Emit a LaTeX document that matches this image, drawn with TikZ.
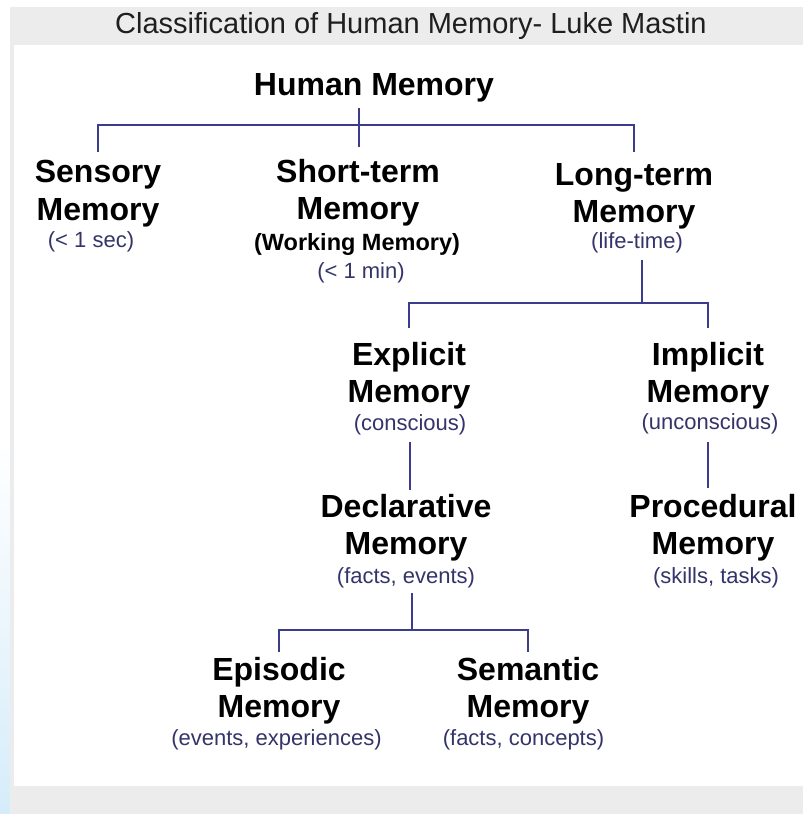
\documentclass[tikz,border=0pt]{standalone}
\usepackage{fontspec}
\setmainfont{Liberation Sans}
\definecolor{panelgrey}{HTML}{ECECEC}
\definecolor{linkblue}{HTML}{3C3C8C}
\definecolor{notenavy}{HTML}{34346A}
\definecolor{washblue}{HTML}{D6ECFA}
\begin{document}
\begin{tikzpicture}[x=1pt,y=-1pt,
    concept/.style={align=center,inner sep=0pt,anchor=north,font=\bfseries\fontsize{32}{37.5}\selectfont},
    note/.style={inner sep=0pt,anchor=base,text=notenavy,font=\fontsize{22}{26}\selectfont},
    link/.style={draw=linkblue,line width=1.8pt}]
    \useasboundingbox (0,0) rectangle (803,814);
    \fill[white] (0,0) rectangle (803,814);
    \shade[top color=white,bottom color=washblue] (0,440) rectangle (10,814);
    \fill[panelgrey] (10,7) rectangle (803,814);
    \fill[white] (14,45) rectangle (803,786);
    \node[inner sep=0pt,anchor=base west,text=black!88,font=\fontsize{29}{34}\selectfont] (title) at (115,33)
        {Classification of Human Memory- Luke Mastin};
    \node[inner sep=0pt,anchor=base,font=\bfseries\fontsize{32}{37.5}\selectfont] (hm) at (374,95) {Human Memory};
    \node[concept] (sens) at (98,160) {Sensory\\Memory};
    \node[concept] (stm) at (358,159) {Short-term\\Memory};
    \node[concept] (ltm) at (634,163) {Long-term\\Memory};
    \node[concept] (expl) at (409,342) {Explicit\\Memory};
    \node[concept] (impl) at (708,342) {Implicit\\Memory};
    \node[concept] (decl) at (406,494) {Declarative\\Memory};
    \node[concept] (proc) at (713,494) {Procedural\\Memory};
    \node[concept] (epi) at (279,657) {Episodic\\Memory};
    \node[concept] (sem) at (528,657) {Semantic\\Memory};
    \node[note] (sensnote) at (91,247) {(< 1 sec)};
    \node[note,text=black,font=\bfseries\fontsize{23.5}{28}\selectfont] (stmwork) at (357,250) {(Working Memory)};
    \node[note] (stmnote) at (361,278) {(< 1 min)};
    \node[note] (ltmnote) at (637,248) {(life-time)};
    \node[note] (explnote) at (410,430) {(conscious)};
    \node[note] (implnote) at (710,429) {(unconscious)};
    \node[note] (declnote) at (406,583) {(facts, events)};
    \node[note] (procnote) at (716,583) {(skills, tasks)};
    \node[note] (epinote) at (276.5,745) {(events, experiences)};
    \node[note] (semnote) at (523.5,745) {(facts, concepts)};
    \coordinate (hmhub) at (359,125);
    \coordinate (ltmhub) at (642,303);
    \coordinate (declhub) at (412,630);
    \draw[link,shorten <=6pt,shorten >=12pt] (hm.south -| hmhub) -- (hmhub |- stm.north);
    \draw[link,shorten <=8pt,shorten >=11pt] (sens.north) |- (hmhub) -| (ltm.north);
    \draw[link,shorten <=7pt] (ltmnote.south -| ltmhub) -- (ltmhub);
    \draw[link,shorten <=14pt,shorten >=14pt] (expl.north) |- (ltmhub) -| (impl.north);
    \draw[link,shorten <=7pt,shorten >=4pt] (explnote.south) -- (explnote.south |- decl.north);
    \draw[link,shorten <=8pt,shorten >=6pt] (implnote.south -| impl.north) -- (impl.north |- proc.north);
    \draw[link,shorten <=5pt] (declnote.south -| declhub) -- (declhub);
    \draw[link,shorten <=5pt,shorten >=5pt] (epi.north) |- (declhub) -| (sem.north);
\end{tikzpicture}
\end{document}
